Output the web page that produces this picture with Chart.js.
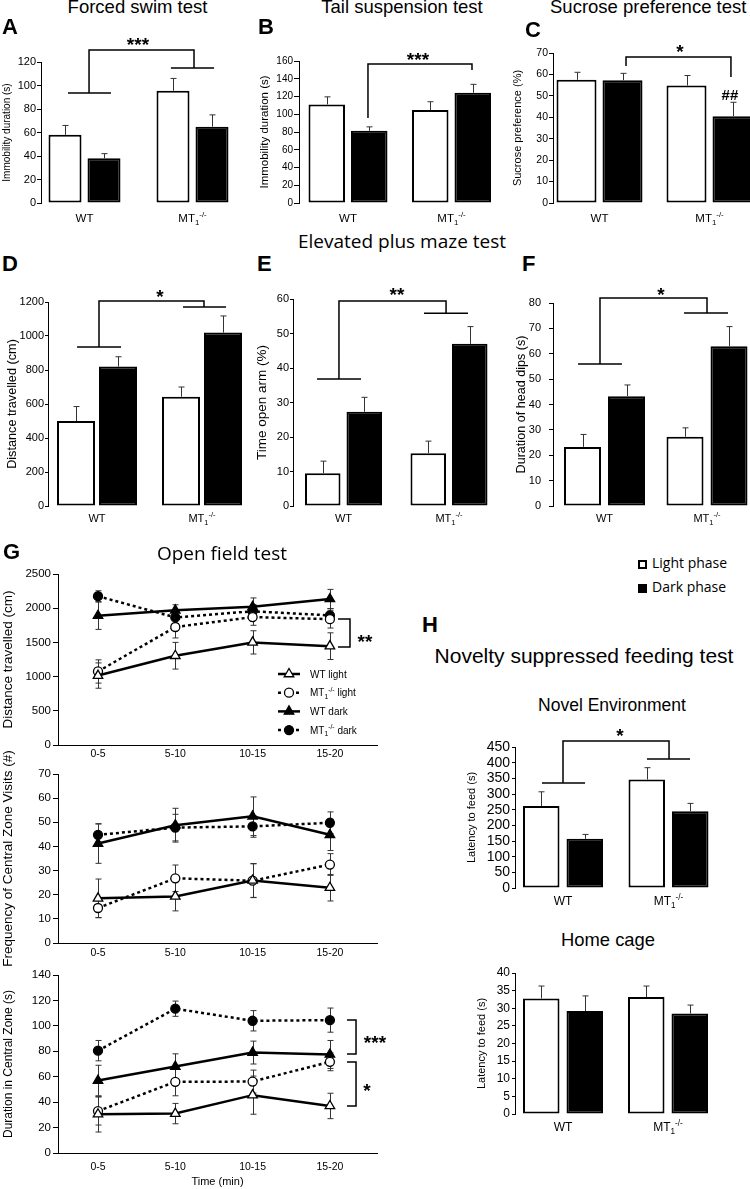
<!DOCTYPE html>
<html>
<head>
<meta charset="utf-8">
<title>Behavioural tests</title>
<script src="https://cdn.jsdelivr.net/npm/chart.js"></script>
<style>
  html, body { margin: 0; padding: 0; background: #fff; }
  #page { position: relative; width: 750px; height: 1189px; overflow: hidden; }
  canvas { position: absolute; }
  .txt { position: absolute; white-space: nowrap; line-height: 1; color: #000; }
  .sq { position: absolute; width: 9px; height: 9px; box-sizing: border-box; border: 2px solid #000; }
</style>
</head>
<body>
<div id="page"></div>
<script>
// ---- data ----
const groups = ['WT', 'MT_{1}^{-/-}'];
const phases = ['Light phase', 'Dark phase'];

// A forced swim (immobility, s)
const swimLight = [58, 95.5];
const swimDark = [38, 65];
const swimLightErr = [8, 10.5];
const swimDarkErr = [4, 10];

// B tail suspension (immobility, s)
const tailLight = [111, 104.7];
const tailDark = [81.3, 124.2];
const tailLightErr = [8.6, 9.4];
const tailDarkErr = [4.5, 9.5];

// C sucrose preference (%)
const sucLight = [57.5, 54.8];
const sucDark = [57.3, 40.5];
const sucLightErr = [3.5, 4.7];
const sucDarkErr = [3.2, 6.5];

// D elevated plus maze, distance (cm)
const epmDistLight = [500, 643];
const epmDistDark = [820, 1020];
const epmDistLightErr = [85, 57];
const epmDistDarkErr = [58, 98];

// E time in open arm (%)
const openArmLight = [9.5, 15.3];
const openArmDark = [27.3, 47];
const openArmLightErr = [3.5, 3.5];
const openArmDarkErr = [4.2, 5];

// F head dips (s)
const headDipLight = [23.3, 27.3];
const headDipDark = [43.3, 63];
const headDipLightErr = [4.9, 3.5];
const headDipDarkErr = [4.4, 7.7];

// H novelty suppressed feeding (s)
const novelLight = [262, 346];
const novelDark = [157, 245];
const novelLightErr = [45, 38];
const novelDarkErr = [14, 25];
const homeLight = [32.8, 33.2];
const homeDark = [29.2, 28.5];
const homeLightErr = [3.5, 3.1];
const homeDarkErr = [4.3, 2.4];

// G open field
const timeBins = ['0-5', '5-10', '10-15', '15-20'];
const seriesNames = ['WT light', 'MT_{1}^{-/-} light', 'WT dark', 'MT_{1}^{-/-} dark'];

const distWTLight = [1015, 1305, 1500, 1445];
const distMTLight = [1075, 1725, 1870, 1840];
const distWTDark = [1890, 1970, 2020, 2135];
const distMTDark = [2175, 1865, 1955, 1895];
const distWTLightErr = [185, 195, 170, 195];
const distMTLightErr = [170, 160, 120, 130];
const distWTDarkErr = [200, 80, 130, 140];
const distMTDarkErr = [80, 90, 100, 100];

const visitsWTLight = [18.5, 19.3, 25.9, 22.9];
const visitsMTLight = [14.5, 26.8, 25.8, 32.5];
const visitsWTDark = [41.2, 48.8, 52.5, 44.8];
const visitsMTDark = [44.8, 47.8, 48.3, 49.8];
const visitsWTLightErr = [8, 6, 7, 5.5];
const visitsMTLightErr = [4, 5.5, 7, 4.5];
const visitsWTDarkErr = [8.2, 7, 8, 6.5];
const visitsMTDarkErr = [4.5, 5.5, 4.5, 4.5];

const centreWTLight = [30.5, 31, 45.5, 37];
const centreMTLight = [33, 56, 56.2, 71.7];
const centreWTDark = [57, 68, 79, 77.5];
const centreMTDark = [80.5, 113.5, 104, 104.5];
const centreWTLightErr = [14, 8, 15, 10];
const centreMTLightErr = [11, 11, 9, 7];
const centreWTDarkErr = [12, 10, 9, 11];
const centreMTDarkErr = [8, 6, 8, 9.5];

// ---- setup ----
const page = document.getElementById('page');
const SANS = "'Liberation Sans', Arial, Helvetica, sans-serif";
const OPEN = "'Open Sans', 'DejaVu Sans', sans-serif";

Chart.defaults.font.family = SANS;
Chart.defaults.color = '#000';
Chart.defaults.animation = false;
Chart.defaults.responsive = false;
Chart.defaults.events = [];
Chart.defaults.plugins.legend.display = false;
Chart.defaults.plugins.tooltip.enabled = false;

function addText(str, x, baseline, size, family, opts) {
  opts = opts || {};
  const d = document.createElement('div');
  d.className = 'txt';
  d.textContent = str;
  d.style.fontFamily = family;
  d.style.fontSize = size + 'px';
  if (opts.bold) d.style.fontWeight = 'bold';
  const k = family === OPEN ? 0.888 : 0.847;
  d.style.top = (baseline - k * size) + 'px';
  d.style.left = x + 'px';
  if (opts.center) d.style.transform = 'translateX(-50%)';
  page.appendChild(d);
}

function addSquare(x, y, filled) {
  const s = document.createElement('div');
  s.className = 'sq';
  s.style.left = x + 'px';
  s.style.top = y + 'px';
  s.style.background = filled ? '#000' : '#fff';
  page.appendChild(s);
}

function makeCanvas(left, top, width, height) {
  const c = document.createElement('canvas');
  c.width = width; c.height = height;
  c.style.left = left + 'px'; c.style.top = top + 'px';
  c.style.width = width + 'px'; c.style.height = height + 'px';
  page.appendChild(c);
  return c;
}

// text with _{sub} and ^{sup} parts
function parseRich(s) {
  const parts = [];
  const re = /([_^])\{([^}]*)\}|([^_^]+)/g;
  let m;
  while ((m = re.exec(s))) {
    if (m[3]) parts.push({ t: m[3], k: 0 });
    else parts.push({ t: m[2], k: m[1] === '_' ? -1 : 1 });
  }
  return parts;
}

function drawRich(ctx, s, x, y, size, align) {
  const parts = parseRich(s);
  let total = 0;
  parts.forEach(p => {
    p.size = p.k ? size * 0.68 : size;
    ctx.font = p.size + 'px ' + SANS;
    p.w = ctx.measureText(p.t).width;
    total += p.w;
  });
  let cx = align === 'center' ? x - total / 2 : x;
  ctx.textBaseline = 'alphabetic';
  ctx.textAlign = 'left';
  parts.forEach(p => {
    ctx.font = p.size + 'px ' + SANS;
    const dy = p.k === -1 ? size * 0.28 : (p.k === 1 ? -size * 0.42 : 0);
    ctx.fillText(p.t, cx, y + dy);
    cx += p.w;
  });
}

// ---- plugins ----
function errorBars(under) {
  const draw = chart => {
    const { ctx, scales: { y } } = chart;
    ctx.save();
    ctx.strokeStyle = '#333';
    ctx.lineWidth = 1;
    chart.data.datasets.forEach((ds, di) => {
      chart.getDatasetMeta(di).data.forEach((el, i) => {
        const v = ds.data[i].y, e = ds.errors[i];
        const x = Math.round(el.x) + 0.5;
        const hi = y.getPixelForValue(v + e);
        const lo = ds.bothWays ? y.getPixelForValue(v - e) : el.y;
        ctx.beginPath();
        ctx.moveTo(x, lo); ctx.lineTo(x, hi);
        ctx.moveTo(x - 3, hi); ctx.lineTo(x + 3, hi);
        if (ds.bothWays) { ctx.moveTo(x - 3, lo); ctx.lineTo(x + 3, lo); }
        ctx.stroke();
      });
    });
    ctx.restore();
  };
  return under ? { id: 'errorBars', beforeDatasetsDraw: draw } : { id: 'errorBars', afterDatasetsDraw: draw };
}

function sigMarks(sig) {
  return {
    id: 'sigMarks',
    afterDraw(chart) {
      const { ctx, scales: { x, y } } = chart;
      ctx.save();
      ctx.strokeStyle = '#000';
      ctx.lineWidth = 1.5;
      sig.lines.forEach(pl => {
        ctx.beginPath();
        pl.forEach((pt, i) => {
          const px = x.getPixelForValue(pt[0]), py = y.getPixelForValue(pt[1]);
          if (i) ctx.lineTo(px, py); else ctx.moveTo(px, py);
        });
        ctx.stroke();
      });
      ctx.fillStyle = '#000';
      ctx.textAlign = 'center';
      ctx.textBaseline = 'alphabetic';
      sig.marks.forEach(m => {
        const size = m.text[0] === '#' ? 15 : 19;
        ctx.font = 'bold ' + size + 'px ' + SANS;
        const lift = m.text[0] === '#' ? 0.36 : 0.62;
        ctx.fillText(m.text, x.getPixelForValue(m.x), y.getPixelForValue(m.y) + lift * size);
      });
      ctx.restore();
    }
  };
}

function groupLabels(size, dy) {
  return {
    id: 'groupLabels',
    afterDraw(chart) {
      const { ctx, scales: { x }, chartArea } = chart;
      ctx.save();
      ctx.fillStyle = '#000';
      groups.forEach((g, i) => drawRich(ctx, g, x.getPixelForValue(i), chartArea.bottom + dy, size, 'center'));
      ctx.restore();
    }
  };
}

function seriesLegend(dx, dy, gap) {
  return {
    id: 'seriesLegend',
    afterDraw(chart) {
      const { ctx, chartArea } = chart;
      ctx.save();
      chart.data.datasets.forEach((ds, k) => {
        const y = chartArea.top + dy + gap * k;
        const x = chartArea.left + dx;
        ctx.strokeStyle = '#000';
        ctx.lineWidth = 2.5;
        ctx.setLineDash(ds.borderDash || []);
        ctx.beginPath(); ctx.moveTo(x, y); ctx.lineTo(x + 22, y); ctx.stroke();
        ctx.setLineDash([]);
        ctx.fillStyle = ds.pointBackgroundColor;
        ctx.lineWidth = ds.pointBorderWidth;
        Chart.helpers.drawPoint(ctx, { pointStyle: ds.pointStyle, radius: ds.pointRadius, rotation: 0, borderWidth: ds.pointBorderWidth }, x + 11, y);
        ctx.fillStyle = '#000';
        drawRich(ctx, ds.label, x + 32, y + 3.5, 10, 'left');
      });
      ctx.restore();
    }
  };
}

// ---- axes ----
function yAxis(p) {
  return {
    min: 0, max: p.yMax,
    ticks: { stepSize: p.yStep, autoSkip: false, font: { size: p.tickSize }, padding: p.tickPad, color: '#000',
             callback: v => String(v) },
    grid: { drawOnChartArea: false, drawTicks: true, tickLength: p.tickLen, color: '#000', lineWidth: 1 },
    border: { display: true, color: '#000', width: 1 },
    title: {
      display: true, text: p.yTitle, color: '#000', font: { size: p.titleSize },
      padding: { top: Math.max(0, p.titleX - p.canvasLeft - 0.6 * p.titleSize), bottom: 0 }
    },
    afterFit: s => { s.width = p.plotLeft - p.canvasLeft; }
  };
}

function barPanel(p, light, dark, lightErr, darkErr, sig) {
  const cv = makeCanvas(p.canvasLeft, p.plotTop - p.padTop, p.canvasRight - p.canvasLeft,
    p.padTop + (p.plotBottom - p.plotTop) + p.xh);
  const S = p.c1 - p.c0;
  const chunk = p.barW + p.gap;
  const cp = 2 * chunk / S, bp = p.barW / chunk;
  const ds = (vals, errs, fill, label) => ({
    label: label,
    data: vals.map((v, i) => ({ x: i, y: v })),
    errors: errs,
    backgroundColor: fill, borderColor: '#000', borderWidth: 2, borderSkipped: false,
    categoryPercentage: cp, barPercentage: bp
  });
  return new Chart(cv, {
    type: 'bar',
    data: { datasets: [ds(light, lightErr, '#fff', phases[0]), ds(dark, darkErr, '#000', phases[1])] },
    options: {
      devicePixelRatio: 1,
      layout: { padding: { top: p.padTop, right: p.canvasRight - p.plotRight, left: 0, bottom: 0 } },
      scales: {
        x: {
          type: 'linear', offset: false,
          min: (p.plotLeft - p.c0) / S, max: (p.plotRight - p.c0) / S,
          afterBuildTicks: s => { s.ticks = groups.map((g, i) => ({ value: i })); },
          ticks: { display: false },
          grid: { display: false, drawTicks: false },
          border: { display: false },
          afterFit: s => { s.height = p.xh; }
        },
        y: yAxis(p)
      }
    },
    plugins: [errorBars(false), sigMarks(sig), groupLabels(p.labelSize, p.labelDy)]
  });
}

const G_X0 = 98, G_STEP = 77.3;
const gStyles = [
  { shape: 'triangle', fill: '#fff', dash: [], r: 5.5 },
  { shape: 'circle', fill: '#fff', dash: [3, 3], r: 4.5 },
  { shape: 'triangle', fill: '#000', dash: [], r: 5.5 },
  { shape: 'circle', fill: '#000', dash: [3, 3], r: 4.5 }
];

function linePanel(p, series, sig, extra) {
  const cv = makeCanvas(p.canvasLeft, p.plotTop - p.padTop, p.canvasRight - p.canvasLeft,
    p.padTop + (p.plotBottom - p.plotTop) + p.xh);
  const plugins = [errorBars(true), sigMarks(sig)];
  if (extra) plugins.push(extra);
  return new Chart(cv, {
    type: 'line',
    data: {
      datasets: series.map((s, k) => ({
        label: seriesNames[k],
        data: s.vals.map((v, i) => ({ x: i, y: v })),
        errors: s.errs, bothWays: true,
        borderColor: '#000', borderWidth: 2.5, borderDash: gStyles[k].dash,
        pointStyle: gStyles[k].shape, pointRadius: gStyles[k].r,
        pointBackgroundColor: gStyles[k].fill, pointBorderColor: '#000', pointBorderWidth: 1.3,
        tension: 0, clip: false
      }))
    },
    options: {
      devicePixelRatio: 1,
      layout: { padding: { top: p.padTop, right: p.canvasRight - p.plotRight, left: 0, bottom: 0 } },
      scales: {
        x: {
          type: 'linear',
          min: (p.plotLeft - G_X0) / G_STEP, max: (p.plotRight - G_X0) / G_STEP,
          afterBuildTicks: s => { s.ticks = timeBins.map((t, i) => ({ value: i })); },
          ticks: { autoSkip: false, maxRotation: 0, font: { size: 10.5 }, padding: p.xTickPad, color: '#000',
                   callback: v => timeBins[v] },
          grid: { display: false, drawTicks: false },
          border: { display: true, color: '#000', width: 1 },
          title: p.xTitle
            ? { display: true, text: p.xTitle, color: '#000', font: { size: 11 }, padding: { top: 0, bottom: 0.5 } }
            : { display: false },
          afterFit: s => { s.height = p.xh; }
        },
        y: yAxis(p)
      }
    },
    plugins: plugins
  });
}

// ---- panels A-C ----
barPanel({ canvasLeft: 0, canvasRight: 248, plotLeft: 41, plotRight: 240, plotTop: 62, plotBottom: 203,
  padTop: 34, xh: 25, c0: 84.5, c1: 192.5, barW: 33, gap: 6,
  yMax: 120, yStep: 20, tickSize: 11, tickLen: 4, tickPad: 1,
  yTitle: 'Immobility duration (s)', titleSize: 10, titleX: 7.5, labelSize: 11.5, labelDy: 19 },
  swimLight, swimDark, swimLightErr, swimDarkErr,
  { lines: [[[-0.153, 93.6], [0.245, 93.6]],
            [[0.042, 93.6], [0.042, 130.2], [1.014, 130.2], [1.014, 114.9]],
            [[0.80, 114.9], [1.2, 114.9]]],
    marks: [{ x: 0.495, y: 139.6, text: '***' }] });

barPanel({ canvasLeft: 255, canvasRight: 500, plotLeft: 299, plotRight: 495, plotTop: 61, plotBottom: 203,
  padTop: 21, xh: 25, c0: 348, c1: 451.5, barW: 36.5, gap: 6,
  yMax: 160, yStep: 20, tickSize: 10, tickLen: 5, tickPad: 1,
  yTitle: 'Immobility duration (s)', titleSize: 11.5, titleX: 265, labelSize: 11.5, labelDy: 19 },
  tailLight, tailDark, tailLightErr, tailDarkErr,
  { lines: [[[0.193, 95.8], [0.193, 156.6], [1.198, 156.6], [1.198, 149.9]]],
    marks: [{ x: 0.676, y: 167.3, text: '***' }] });

barPanel({ canvasLeft: 505, canvasRight: 750, plotLeft: 553, plotRight: 750, plotTop: 53, plotBottom: 203,
  padTop: 23, xh: 25, c0: 599.5, c1: 709.5, barW: 40, gap: 6,
  yMax: 70, yStep: 10, tickSize: 10.5, tickLen: 4, tickPad: 1,
  yTitle: 'Sucrose preference (%)', titleSize: 11, titleX: 518, labelSize: 11.5, labelDy: 19 },
  sucLight, sucDark, sucLightErr, sucDarkErr,
  { lines: [[[0.241, 63.9], [0.241, 68.1], [1.195, 68.1], [1.195, 58.8]]],
    marks: [{ x: 0.732, y: 73.3, text: '*' }, { x: 1.186, y: 50.4, text: '##' }] });

// ---- panels D-F ----
barPanel({ canvasLeft: 0, canvasRight: 250, plotLeft: 48, plotRight: 246, plotTop: 302, plotBottom: 506,
  padTop: 22, xh: 22, c0: 97, c1: 202, barW: 38, gap: 4,
  yMax: 1200, yStep: 200, tickSize: 11, tickLen: 3, tickPad: 1,
  yTitle: 'Distance travelled (cm)', titleSize: 12.7, titleX: 12, labelSize: 11, labelDy: 16 },
  epmDistLight, epmDistDark, epmDistLightErr, epmDistDarkErr,
  { lines: [[[-0.19, 935], [0.229, 935]],
            [[0.019, 935], [0.019, 1206], [1.019, 1206], [1.019, 1171]],
            [[0.819, 1171], [1.229, 1171]]],
    marks: [{ x: 0.6, y: 1262, text: '*' }] });

barPanel({ canvasLeft: 250, canvasRight: 500, plotLeft: 293, plotRight: 492, plotTop: 299, plotBottom: 506,
  padTop: 21, xh: 22, c0: 343.5, c1: 449, barW: 35.5, gap: 6,
  yMax: 60, yStep: 10, tickSize: 11, tickLen: 3, tickPad: 1,
  yTitle: 'Time open arm (%)', titleSize: 13.5, titleX: 262, labelSize: 11, labelDy: 16 },
  openArmLight, openArmDark, openArmLightErr, openArmDarkErr,
  { lines: [[[-0.251, 36.8], [0.166, 36.8]],
            [[-0.043, 36.8], [-0.043, 59.4], [0.972, 59.4], [0.972, 55.9]],
            [[0.763, 55.9], [1.18, 55.9]]],
    marks: [{ x: 0.507, y: 62.9, text: '**' }] });

barPanel({ canvasLeft: 505, canvasRight: 750, plotLeft: 553, plotRight: 750, plotTop: 303, plotBottom: 506,
  padTop: 25, xh: 22, c0: 604.5, c1: 707, barW: 37, gap: 7,
  yMax: 80, yStep: 10, tickSize: 11, tickLen: 4, tickPad: 8,
  yTitle: 'Duration of head dips (s)', titleSize: 12.6, titleX: 522, labelSize: 11, labelDy: 16 },
  headDipLight, headDipDark, headDipLightErr, headDipDarkErr,
  { lines: [[[-0.258, 56], [0.17, 56]],
            [[-0.044, 56], [-0.044, 82], [1.0, 82], [1.0, 76.1]],
            [[0.776, 76.1], [1.205, 76.1]]],
    marks: [{ x: 0.551, y: 85.5, text: '*' }] });

// ---- panel G ----
linePanel({ canvasLeft: 0, canvasRight: 400, plotLeft: 58, plotRight: 377, plotTop: 574, plotBottom: 745,
  padTop: 12, xh: 17, yMax: 2500, yStep: 500, tickSize: 11.5, tickLen: 5, tickPad: 2,
  yTitle: 'Distance travelled (cm)', titleSize: 13.5, titleX: 8, xTickPad: 3 },
  [{ vals: distWTLight, errs: distWTLightErr }, { vals: distMTLight, errs: distMTLightErr },
   { vals: distWTDark, errs: distWTDarkErr }, { vals: distMTDark, errs: distMTDarkErr }],
  { lines: [[[3.105, 1842], [3.26, 1842], [3.26, 1433], [3.105, 1433]]],
    marks: [{ x: 3.454, y: 1594, text: '**' }] },
  seriesLegend(220, 100, 18.7));

linePanel({ canvasLeft: 0, canvasRight: 400, plotLeft: 58, plotRight: 377, plotTop: 774, plotBottom: 943,
  padTop: 32, xh: 30, yMax: 70, yStep: 10, tickSize: 11.5, tickLen: 5, tickPad: 2,
  yTitle: 'Frequency of Central Zone Visits (#)', titleSize: 13.5, titleX: 8, xTickPad: 4 },
  [{ vals: visitsWTLight, errs: visitsWTLightErr }, { vals: visitsMTLight, errs: visitsMTLightErr },
   { vals: visitsWTDark, errs: visitsWTDarkErr }, { vals: visitsMTDark, errs: visitsMTDarkErr }],
  { lines: [], marks: [] });

linePanel({ canvasLeft: 0, canvasRight: 400, plotLeft: 58, plotRight: 377, plotTop: 975, plotBottom: 1153,
  padTop: 12, xh: 36, yMax: 140, yStep: 20, tickSize: 11.5, tickLen: 5, tickPad: 2,
  yTitle: 'Duration in Central Zone (s)', titleSize: 12, titleX: 8.5, xTickPad: 8, xTitle: 'Time (min)' },
  [{ vals: centreWTLight, errs: centreWTLightErr }, { vals: centreMTLight, errs: centreMTLightErr },
   { vals: centreWTDark, errs: centreWTDarkErr }, { vals: centreMTDark, errs: centreMTDarkErr }],
  { lines: [[[3.221, 104.6], [3.338, 104.6], [3.338, 77.9], [3.221, 77.9]],
            [[3.221, 71.6], [3.338, 71.6], [3.338, 37], [3.221, 37]]],
    marks: [{ x: 3.583, y: 91.2, text: '***' }, { x: 3.48, y: 53.5, text: '*' }] });

// ---- panel H ----
barPanel({ canvasLeft: 460, canvasRight: 720, plotLeft: 515, plotRight: 712, plotTop: 747, plotBottom: 888,
  padTop: 27, xh: 22, c0: 563, c1: 668.5, barW: 36.5, gap: 7,
  yMax: 450, yStep: 50, tickSize: 14, tickLen: 3, tickPad: 2,
  yTitle: 'Latency to feed (s)', titleSize: 11, titleX: 472, labelSize: 12, labelDy: 17 },
  novelLight, novelDark, novelLightErr, novelDarkErr,
  { lines: [[[-0.199, 335], [0.209, 335]],
            [[0, 335], [0, 469], [1.005, 469], [1.005, 412]],
            [[0.796, 412], [1.204, 412]]],
    marks: [{ x: 0.54, y: 504, text: '*' }] });

barPanel({ canvasLeft: 470, canvasRight: 720, plotLeft: 515, plotRight: 712, plotTop: 973, plotBottom: 1114,
  padTop: 12, xh: 22, c0: 563, c1: 668, barW: 36.5, gap: 7,
  yMax: 40, yStep: 5, tickSize: 12, tickLen: 3, tickPad: 2,
  yTitle: 'Latency to feed (s)', titleSize: 11, titleX: 482, labelSize: 12, labelDy: 17 },
  homeLight, homeDark, homeLightErr, homeDarkErr,
  { lines: [], marks: [] });

// ---- titles, letters, phase legend ----
addText('Forced swim test', 137.5, 14, 18.5, SANS, { center: true });
addText('Tail suspension test', 402, 14, 18.5, SANS, { center: true });
addText('Sucrose preference test', 550, 14, 18.5, SANS);
addText('Elevated plus maze test', 402, 249, 19, OPEN, { center: true });
addText('Open field test', 222, 561, 19, OPEN, { center: true });
addText('Novelty suppressed feeding test', 584, 663, 21, SANS, { center: true });
addText('Novel Environment', 612, 712, 17.5, SANS, { center: true });
addText('Home cage', 608, 947, 18.4, SANS, { center: true });

[['A', 2, 35], ['B', 258, 35], ['C', 525, 38], ['D', 2, 272], ['E', 257, 272],
 ['F', 522, 272], ['G', 3, 560], ['H', 422, 633]].forEach(l => addText(l[0], l[1], l[2], 22, SANS, { bold: true }));

addSquare(638, 560, false);
addSquare(638, 584, true);
addText(phases[0], 652, 568, 14, OPEN);
addText(phases[1], 652, 592, 14, OPEN);
</script>
</body>
</html>
